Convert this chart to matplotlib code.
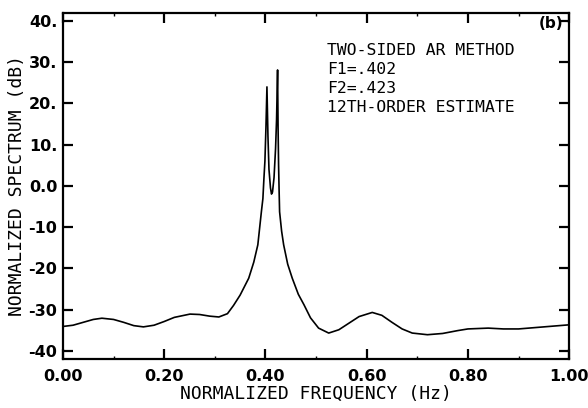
import matplotlib.pyplot as plt
from matplotlib.ticker import MultipleLocator

# normalized frequency and two-sided AR spectrum (dB)
freq = [0.000, 0.020, 0.040, 0.060, 0.077, 0.100, 0.120, 0.140, 0.159, 0.180,
        0.200, 0.220, 0.251, 0.270, 0.290, 0.308, 0.325, 0.337, 0.350, 0.367,
        0.377, 0.385, 0.392, 0.395, 0.397, 0.399, 0.401, 0.403, 0.405, 0.407,
        0.410, 0.412, 0.414, 0.417, 0.420, 0.422, 0.424, 0.425, 0.426, 0.427,
        0.428, 0.432, 0.436, 0.444, 0.453, 0.465, 0.476, 0.489, 0.505, 0.525,
        0.545, 0.565, 0.585, 0.611, 0.630, 0.650, 0.670, 0.690, 0.720, 0.750,
        0.780, 0.800, 0.840, 0.870, 0.900, 0.930, 0.960, 1.000]
spec = [-34.1, -33.8, -33.1, -32.4, -32.1, -32.4, -33.1, -33.9, -34.2, -33.8,
        -32.9, -31.9, -31.1, -31.2, -31.6, -31.8, -31.0, -29.0, -26.5, -22.4,
        -18.5, -14.3, -6.3, -3.1, 1.7, 6.0, 14.0, 24.0, 12.0, 4.0,
        -0.5, -2.0, -1.5, 2.0, 9.0, 16.0, 28.1, 14.0, 5.0, -1.0,
        -6.3, -11.0, -14.3, -19.0, -22.4, -26.3, -28.8, -32.0, -34.5, -35.7,
        -34.9, -33.3, -31.7, -30.7, -31.4, -33.1, -34.7, -35.7, -36.1, -35.8,
        -35.1, -34.7, -34.5, -34.7, -34.7, -34.4, -34.1, -33.7]

yticks = [40, 30, 20, 10, 0, -10, -20, -30, -40]
ytick_labels = ['40.', '30.', '20.', '10.', '0.0', '-10', '-20', '-30', '-40']
xticks = [0.0, 0.2, 0.4, 0.6, 0.8, 1.0]
xtick_labels = ['0.00', '0.20', '0.40', '0.60', '0.80', '1.00']
notes = ['TWO-SIDED AR METHOD', 'F1=.402', 'F2=.423', '12TH-ORDER ESTIMATE']

fig = plt.figure(figsize=(5.88, 4.08), dpi=100)
ax = fig.add_axes([0.107, 0.120, 0.861, 0.849])

ax.plot(freq, spec, color='black', lw=1.2)

ax.set_xlim(0, 1)
ax.set_ylim(-42, 42)
ax.set_xticks(xticks)
ax.set_xticklabels(xtick_labels, fontsize=11.5, fontweight='bold')
ax.set_yticks(yticks)
ax.set_yticklabels(ytick_labels, fontsize=11.5, fontweight='bold')
ax.xaxis.set_minor_locator(MultipleLocator(0.1))
ax.tick_params(which='major', direction='in', length=7, width=1.6,
               top=True, right=True, pad=4)
ax.tick_params(axis='x', which='major', pad=7)
ax.tick_params(which='minor', direction='in', length=2.5, width=1,
               top=True, right=False, left=False)
for s in ax.spines.values():
    s.set_linewidth(1.6)

ax.set_xlabel('NORMALIZED FREQUENCY (Hz)', family='DejaVu Sans Mono',
              fontsize=13, labelpad=1)
ax.set_ylabel('NORMALIZED SPECTRUM (dB)', family='DejaVu Sans Mono',
              fontsize=13, labelpad=2)

ax.text(0.988, 0.99, '(b)', transform=ax.transAxes, ha='right', va='top',
        fontsize=11, fontweight='bold')
for i, line in enumerate(notes):
    ax.text(0.522, 0.890 - i * 0.0549, line, transform=ax.transAxes,
            ha='left', va='center', family='DejaVu Sans Mono', fontsize=11.8)

fig.savefig('out.png', dpi=100)
